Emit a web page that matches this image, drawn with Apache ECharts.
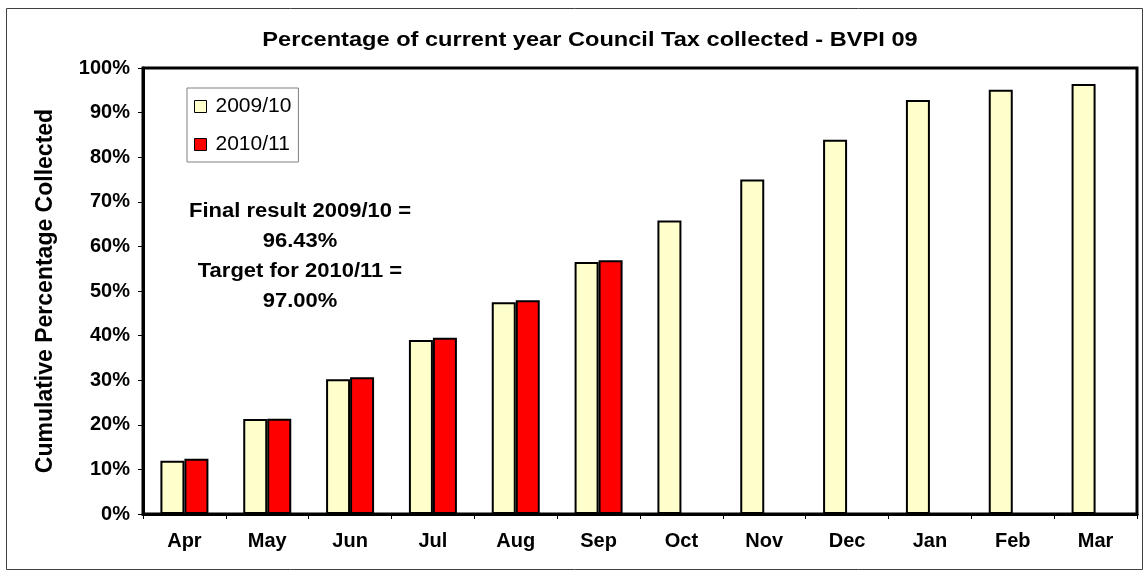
<!DOCTYPE html>
<html>
<head>
<meta charset="utf-8">
<script src="https://cdn.jsdelivr.net/npm/echarts@6/dist/echarts.min.js"></script>
<style>
  html, body { margin: 0; padding: 0; background: #fff; }
  #chart { width: 1144px; height: 571px; }
</style>
</head>
<body>
<div id="chart"></div>
<script>
const months = ['Apr', 'May', 'Jun', 'Jul', 'Aug', 'Sep', 'Oct', 'Nov', 'Dec', 'Jan', 'Feb', 'Mar'];
const series2009 = [11.95, 21.3, 30.2, 39.0, 47.5, 56.5, 65.8, 75.0, 83.9, 92.8, 95.1, 96.43];
const series2010 = [12.4, 21.35, 30.65, 39.5, 47.9, 56.9, null, null, null, null, null, null];
const seriesNames = ['2009/10', '2010/11'];
const titleText = 'Percentage of current year Council Tax collected - BVPI 09';
const yAxisTitle = 'Cumulative Percentage Collected';
const noteLines = ['Final result 2009/10 =', '96.43%', 'Target for 2010/11 =', '97.00%'];

const FONT = '"Liberation Sans", Arial, sans-serif';
const chart = echarts.init(document.getElementById('chart'));

chart.setOption({
  animation: false,
  backgroundColor: '#ffffff',
  grid: {
    left: 143, top: 68, right: 7, bottom: 57,
    show: true, borderColor: '#000', borderWidth: 3, backgroundColor: 'transparent'
  },
  legend: {
    left: 187, top: 88, orient: 'vertical',
    itemWidth: 12, itemHeight: 12, itemGap: 17,
    padding: [8, 7, 7, 7],
    borderColor: '#808080', borderWidth: 1, backgroundColor: '#fff',
    icon: 'rect',
    itemStyle: { borderColor: '#000', borderWidth: 1 },
    textStyle: { fontFamily: FONT, fontSize: 21, lineHeight: 21, color: '#000', padding: [0, 0, 0, 4] },
    data: seriesNames
  },
  xAxis: {
    type: 'category',
    data: months,
    axisLine: { lineStyle: { color: '#000', width: 3 } },
    axisTick: { show: true, length: 5, lineStyle: { color: '#000', width: 1 } },
    axisLabel: { fontFamily: FONT, fontWeight: 'bold', fontSize: 20, color: '#000', margin: 17 }
  },
  yAxis: {
    type: 'value',
    min: 0, max: 100, interval: 10,
    name: yAxisTitle,
    nameLocation: 'middle', nameGap: 86, nameRotate: 90,
    nameTextStyle: { fontFamily: FONT, fontWeight: 'bold', fontSize: 23, color: '#000' },
    splitLine: { show: false },
    axisLine: { show: true, lineStyle: { color: '#000', width: 3 } },
    axisTick: { show: true, length: 5, lineStyle: { color: '#000', width: 1 } },
    axisLabel: { fontFamily: FONT, fontWeight: 'bold', fontSize: 20, color: '#000', margin: 13, formatter: '{value}%' }
  },
  series: [
    {
      name: seriesNames[0], type: 'bar', data: series2009,
      barWidth: 24, barGap: '0%',
      itemStyle: { color: '#FFFFCC', borderColor: '#000', borderWidth: 2 }
    },
    {
      name: seriesNames[1], type: 'bar', data: series2010,
      barWidth: 24, barGap: '0%',
      itemStyle: { color: '#FF0000', borderColor: '#000', borderWidth: 2 }
    }
  ],
  graphic: [
    {
      type: 'rect', left: 4, top: 6, silent: true, z: -10,
      shape: { width: 1136, height: 561 },
      style: { fill: 'none', stroke: '#404040', lineWidth: 1 }
    },
    {
      type: 'text', x: 590, y: 30, scaleX: 1.18, silent: true,
      style: {
        text: titleText, x: 0, y: 0, align: 'center', verticalAlign: 'top',
        font: 'bold 20px ' + FONT, fill: '#000'
      }
    },
    {
      type: 'text', x: 300, y: 196, scaleX: 1.1, silent: true,
      style: {
        text: noteLines.join('\n'),
        x: 0, y: 0, align: 'center', verticalAlign: 'top',
        font: 'bold 20px ' + FONT, fill: '#000', lineHeight: 30
      }
    }
  ]
});
</script>
</body>
</html>
